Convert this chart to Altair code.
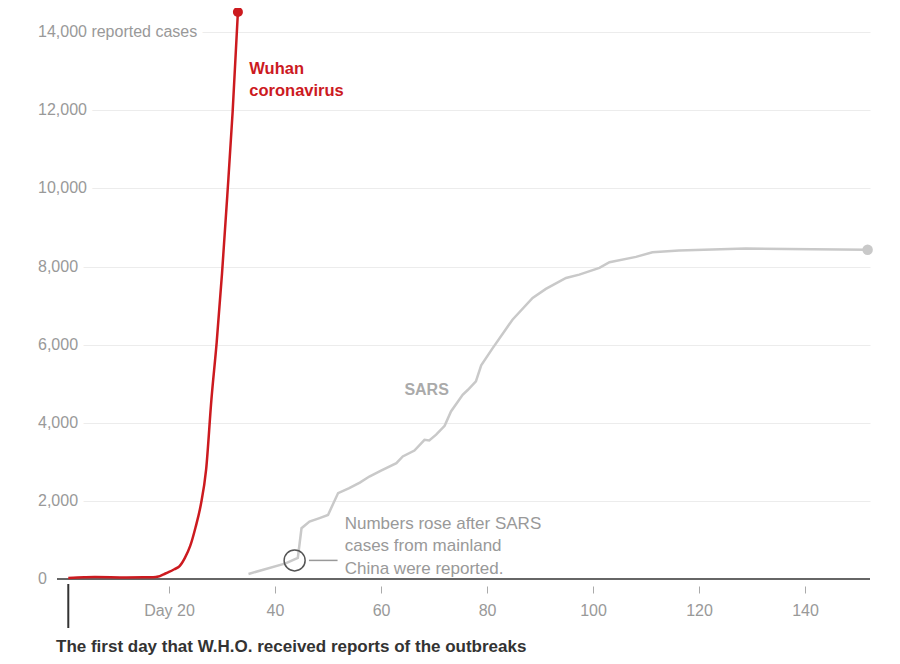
import altair as alt
import pandas as pd

# ---------------- data ----------------
wuhan_day = [1, 4, 6, 12, 17, 18, 19, 20, 21, 22, 23, 24, 25, 26, 27, 28, 29, 30, 31, 32, 33]
wuhan_cases = [27, 44, 50, 41, 45, 62, 121, 180, 250, 330, 540, 846, 1320, 1900, 2798, 4593,
               6065, 7818, 9826, 11953, 14520]

sars_day = [35, 42, 44.3, 45, 46.5, 48.4, 50, 51.9, 54, 56, 57.8, 60, 62.9, 64.1, 66.3, 68.2,
            69.1, 70.4, 72, 73.2, 75.4, 76.4, 77.9, 78.9, 81, 84.8, 88.6, 91.1, 94.9, 97.4,
            101.2, 103.1, 108.1, 111.2, 116.2, 128.8, 141.4, 151.8]
sars_cases = [130, 400, 540, 1300, 1470, 1560, 1640, 2200, 2325, 2470, 2624, 2778, 2966, 3137,
              3290, 3564, 3547, 3695, 3923, 4290, 4718, 4846, 5060, 5470, 5900, 6641, 7197,
              7428, 7710, 7795, 7966, 8111, 8248, 8367, 8410, 8462, 8444, 8430]

y_ticks = [0, 2000, 4000, 6000, 8000, 10000, 12000, 14000]
y_tick_labels = ["0", "2,000", "4,000", "6,000", "8,000", "10,000", "12,000", "14,000 reported cases"]
x_ticks = [20, 40, 60, 80, 100, 120, 140]

wuhan_label = ["Wuhan", "coronavirus"]
wuhan_label_day = [35.15, 35.15]
wuhan_label_val = [12932, 12356]

sars_label = ["SARS"]
sars_label_day = [68.6]
sars_label_val = [4850]

note_lines = ["Numbers rose after SARS", "cases from mainland", "China were reported."]
note_day = [53.15, 53.15, 53.15]
note_val = [1280, 707, 136]
circle_day = [43.7]
circle_val = [476]
connector_day = [46.4]
connector_day2 = [51.8]

first_day = [1]
bottom_note = "The first day that W.H.O. received reports of the outbreaks"

# ---------------- layout ----------------
W, H = 813, 571
FONT = "Liberation Sans"
RED = "#cc1a1f"
GRAY_LINE = "#c9c9c9"
GRAY_TEXT = "#999999"

xscale = alt.Scale(domain=[-1.13, 152.25], nice=False, zero=False)
yscale = alt.Scale(domain=[0, 14622], nice=False, zero=False)

xaxis = alt.Axis(values=x_ticks, title=None, grid=False, domain=False, offset=7,
                 ticks=True, tickSize=7, tickColor="#aaaaaa", tickWidth=1,
                 labelColor=GRAY_TEXT, labelFont=FONT, labelFontSize=16, labelPadding=9,
                 labelFlush=False,
                 labelExpr="datum.value == 20 ? 'Day 20' : datum.label")
yaxis = alt.Axis(values=y_ticks[1:], title=None, grid=True, gridColor="#ececec", gridWidth=1,
                 labels=False, ticks=False, domain=False)


def X(f):
    return alt.X(f"{f}:Q", scale=xscale, axis=xaxis)


def Y(f):
    return alt.Y(f"{f}:Q", scale=yscale, axis=yaxis)


wuhan_df = pd.DataFrame({"day": wuhan_day, "cases": wuhan_cases})
sars_df = pd.DataFrame({"day": sars_day, "cases": sars_cases})
ylab_df = pd.DataFrame({"v": y_ticks, "label": y_tick_labels})

# gridlines (via axis) + label halos
halo = alt.Chart(ylab_df).mark_text(
    align="left", baseline="middle", font=FONT, fontSize=16, color="white",
    stroke="white", strokeWidth=12, strokeJoin="round"
).encode(x=alt.value(-19), y=Y("v"), text="label:N")

ylabels = alt.Chart(ylab_df).mark_text(
    align="left", baseline="middle", font=FONT, fontSize=16, color=GRAY_TEXT
).encode(x=alt.value(-19), y=Y("v"), text="label:N")

baseline = alt.Chart(pd.DataFrame({"z": [0]})).mark_rule(
    color="#333333", strokeWidth=1.5
).encode(y=Y("z"), x=alt.value(0), x2=alt.value(W))

sars_line = alt.Chart(sars_df).mark_line(color=GRAY_LINE, strokeWidth=2.5).encode(
    x=X("day"), y=Y("cases"))
wuhan_line = alt.Chart(wuhan_df).mark_line(color=RED, strokeWidth=2.5, interpolate="monotone").encode(
    x=X("day"), y=Y("cases"))

sars_end = alt.Chart(sars_df.tail(1)).mark_circle(color=GRAY_LINE, size=110, opacity=1).encode(
    x=X("day"), y=Y("cases"))
wuhan_end = alt.Chart(wuhan_df.tail(1)).mark_circle(color=RED, size=100, opacity=1).encode(
    x=X("day"), y=Y("cases"))

wuhan_text = alt.Chart(pd.DataFrame({"t": wuhan_label, "d": wuhan_label_day, "v": wuhan_label_val})).mark_text(
    align="left", baseline="alphabetic", font=FONT, fontSize=16.5, fontWeight="bold", color=RED
).encode(x=X("d"), y=Y("v"), text="t:N")

sars_text = alt.Chart(pd.DataFrame({"t": sars_label, "d": sars_label_day, "v": sars_label_val})).mark_text(
    align="center", baseline="middle", font=FONT, fontSize=16, fontWeight="bold", color="#aaaaaa"
).encode(x=X("d"), y=Y("v"), text="t:N")

note_text = alt.Chart(pd.DataFrame({"t": note_lines, "d": note_day, "v": note_val})).mark_text(
    align="left", baseline="alphabetic", font=FONT, fontSize=17, color=GRAY_TEXT
).encode(x=X("d"), y=Y("v"), text="t:N")

circle = alt.Chart(pd.DataFrame({"d": circle_day, "v": circle_val})).mark_point(
    shape="circle", size=441, filled=False, stroke="#555555", strokeWidth=1.5, opacity=1
).encode(x=X("d"), y=Y("v"))

connector = alt.Chart(pd.DataFrame({"d": connector_day, "d2": connector_day2, "v": circle_val})).mark_rule(
    color="#999999", strokeWidth=1.5
).encode(x=X("d"), x2="d2:Q", y=Y("v"))

marker = alt.Chart(pd.DataFrame({"d": first_day})).mark_rule(
    color="#333333", strokeWidth=2
).encode(x=X("d"), y=alt.value(H + 5), y2=alt.value(H + 49))

bottom_text = alt.Chart(pd.DataFrame({"t": [bottom_note]})).mark_text(
    align="left", baseline="alphabetic", font=FONT, fontSize=17, fontWeight="bold", color="#333333"
).encode(x=alt.value(-1), y=alt.value(H + 73), text="t:N")

chart = alt.layer(
    halo, ylabels, baseline, sars_line, wuhan_line, sars_end, wuhan_end,
    wuhan_text, sars_text, note_text, circle, connector, marker, bottom_text
).properties(
    width=W, height=H,
    padding={"left": 49, "top": 0, "right": 22, "bottom": 85},
    autosize=alt.AutoSizeParams(type="none"),
    background="white",
).configure_view(stroke=None)

chart.save("out.html", embed_options={"renderer": "svg", "actions": False})
